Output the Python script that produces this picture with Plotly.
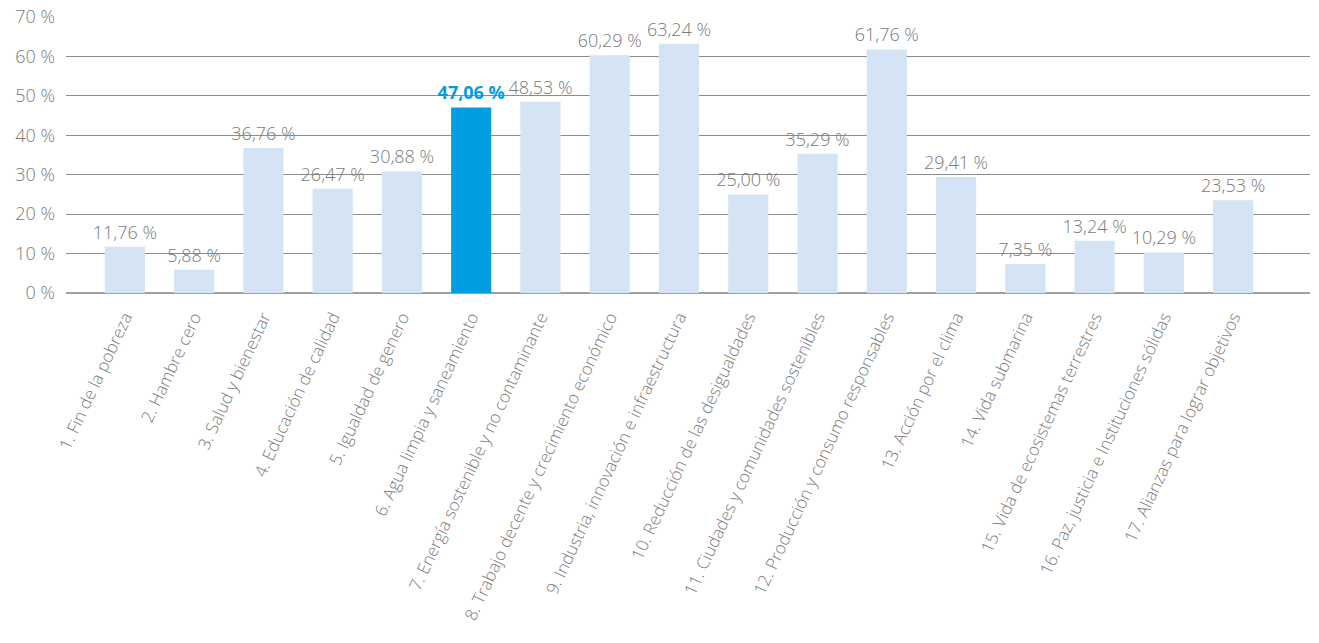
import plotly.graph_objects as go

# Objetivos de Desarrollo Sostenible y porcentaje de menciones
categorias = [
    "1. Fin de la pobreza",
    "2. Hambre cero",
    "3. Salud y bienestar",
    "4. Educación de calidad",
    "5. Igualdad de genero",
    "6. Agua limpia y saneamiento",
    "7. Energía sostenible y no contaminante",
    "8. Trabajo decente y crecimiento económico",
    "9. Industria, innovación e infraestructura",
    "10. Reducción de las desigualdades",
    "11. Ciudades y comunidades sostenibles",
    "12. Producción y consumo responsables",
    "13. Acción por el clima",
    "14. Vida submarina",
    "15. Vida de ecosistemas terrestres",
    "16. Paz, justicia e Instituciones sólidas",
    "17. Alianzas para lograr objetivos",
]
valores = [11.76, 5.88, 36.76, 26.47, 30.88, 47.06, 48.53, 60.29, 63.24,
           25.00, 35.29, 61.76, 29.41, 7.35, 13.24, 10.29, 23.53]
destacado = 5  # índice del objetivo resaltado

COLOR_BARRA = "#d4e4f4"
COLOR_DESTACADO = "#009ee0"
COLOR_TEXTO = "#7a7a7a"
FUENTE = "Open Sans"

colores = [COLOR_DESTACADO if i == destacado else COLOR_BARRA for i in range(len(valores))]
textos = []
colores_texto = []
for i, v in enumerate(valores):
    t = f"{v:.2f}".replace(".", ",") + " %"
    if i == destacado:
        t = f"<b>{t}</b>"
        colores_texto.append(COLOR_DESTACADO)
    else:
        colores_texto.append(COLOR_TEXTO)
    textos.append(t)

fig = go.Figure(
    go.Bar(
        x=categorias,
        y=valores,
        marker=dict(color=colores, line=dict(width=0)),
        width=0.58,
        text=textos,
        textposition="outside",
        constraintext="none",
        textfont=dict(family=FUENTE, size=18, color=colores_texto, weight=300),
        cliponaxis=False,
        hoverinfo="skip",
    )
)

fig.update_layout(
    width=1319,
    height=643,
    margin=dict(l=66, r=9, t=17, b=350, autoexpand=False),
    paper_bgcolor="white",
    plot_bgcolor="white",
    showlegend=False,
    font=dict(family=FUENTE, color=COLOR_TEXTO, weight=300),
    xaxis=dict(
        type="category",
        range=[-0.85, 17.11],
        tickangle=-65,
        tickfont=dict(size=17, color=COLOR_TEXTO, family=FUENTE, weight=300),
        showgrid=False,
        showline=False,
        ticks="",
        ticklabelstandoff=10,
        automargin=False,
    ),
    yaxis=dict(
        range=[0, 70],
        dtick=10,
        ticksuffix=" %",
        tickfont=dict(size=18, color=COLOR_TEXTO, family=FUENTE, weight=300),
        showgrid=True,
        gridcolor="#8c8c8c",
        gridwidth=1,
        zeroline=True,
        zerolinecolor="#a0a0a0",
        zerolinewidth=2,
        showline=False,
        ticks="",
        ticklabelstandoff=10,
        automargin=False,
    ),
)

fig.write_html("out.html")
